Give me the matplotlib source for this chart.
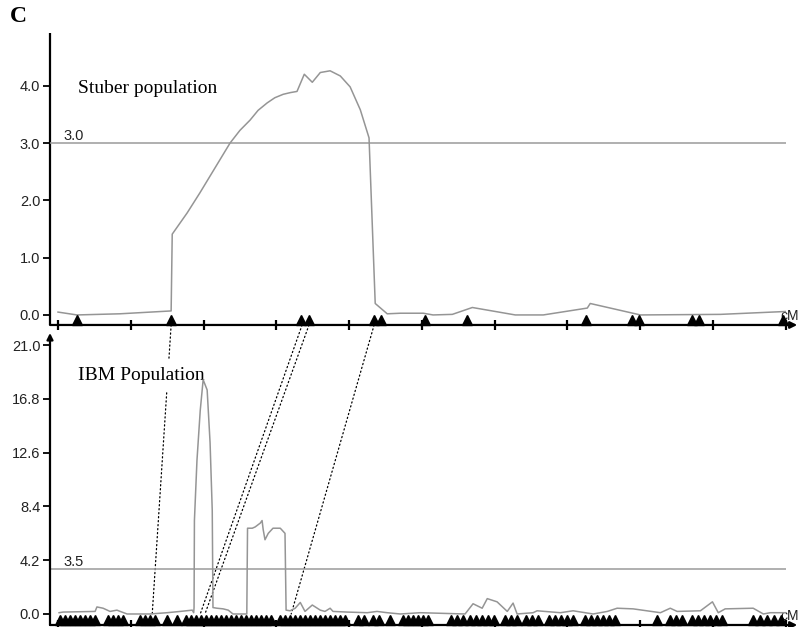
import matplotlib.pyplot as plt
import matplotlib.transforms as mtransforms
from matplotlib.patches import ConnectionPatch

# LOD profiles (position in cM, LOD score)
stuber_cm = [0.0, 5.2, 17.0, 31.1, 31.4, 35.5, 39.0, 47.3, 50.0, 52.8, 55.0, 57.5, 59.6,
             61.9, 63.9, 65.7, 67.7, 69.9, 72.1, 74.8, 77.6, 80.3, 83.1, 85.5, 87.2,
             90.5, 94.1, 100.4, 103.1, 108.4, 113.9, 125.7, 133.4, 145.5, 146.3, 160.1,
             182.1, 199.9]
stuber_lod = [0.05, 0.0, 0.02, 0.07, 1.41, 1.78, 2.13, 3.0, 3.22, 3.4, 3.57, 3.7, 3.79,
              3.85, 3.88, 3.9, 4.2, 4.06, 4.23, 4.26, 4.17, 3.98, 3.58, 3.09, 0.2,
              0.02, 0.03, 0.03, 0.0, 0.01, 0.13, 0.0, 0.0, 0.12, 0.2, 0.0,
              0.01, 0.06]

ibm_cm = [0.3, 1.4, 10.2, 10.7, 12.4, 14.3, 16.2, 17.1, 19.0, 25.3, 30.0, 33.6, 36.9,
          37.3, 37.4, 37.5, 38.2, 39.1, 39.9, 41.0, 41.8, 42.4, 42.6, 43.7, 45.4, 46.8,
          48.1, 51.9, 52.1, 53.4, 54.2, 55.6, 56.1, 56.4, 56.9, 57.8, 59.1, 61.1, 62.4,
          62.7, 63.8, 65.2, 66.6, 67.9, 69.9, 72.1, 73.4, 74.8, 75.6, 79.5, 85.0, 87.7,
          90.5, 94.1, 99.6, 111.9, 114.1, 116.6, 118.0, 120.7, 123.5, 125.1, 126.2,
          130.6, 131.7, 138.1, 141.6, 147.1, 151.0, 153.7, 158.1, 165.6, 168.3, 170.2,
          176.6, 179.9, 181.5, 183.4, 191.1, 193.9, 195.8, 199.9]
ibm_lod = [0.1, 0.15, 0.2, 0.55, 0.45, 0.2, 0.3, 0.2, 0.0, 0.0, 0.1, 0.2, 0.3,
           0.1, 0.5, 7.3, 12.0, 15.9, 18.3, 17.5, 13.4, 8.1, 0.5, 0.45, 0.4, 0.3,
           0.0, 0.0, 6.7, 6.7, 6.8, 7.1, 7.3, 6.6, 5.8, 6.3, 6.7, 6.7, 6.3,
           0.3, 0.25, 0.45, 0.9, 0.2, 0.7, 0.3, 0.2, 0.45, 0.2, 0.15, 0.1, 0.2,
           0.1, 0.0, 0.1, 0.0, 0.8, 0.45, 1.2, 0.95, 0.2, 0.85, 0.0,
           0.1, 0.25, 0.1, 0.25, 0.0, 0.2, 0.45, 0.4, 0.1, 0.45, 0.2,
           0.25, 0.95, 0.1, 0.4, 0.45, 0.0, 0.1, 0.1]

# marker positions (cM)
stuber_markers = [5.2, 31.0, 66.8, 69.0, 86.8, 88.7, 100.8, 112.4, 145.1, 157.7,
                  159.6, 174.2, 176.1, 199.2]
ibm_markers = [0.5, 1.9, 3.3, 4.7, 6.0, 7.4, 8.8, 10.2, 13.8, 15.1, 16.5, 17.9,
               22.6, 23.9, 25.3, 26.7, 30.0, 32.7, 35.2, 36.6, 38.0, 39.3, 40.7,
               42.1, 43.5, 44.8, 46.2, 47.6, 49.0, 50.3, 51.7, 53.1, 54.5, 55.8,
               57.2, 58.6, 61.1, 62.4, 63.8, 65.2, 66.6, 67.9, 69.3, 70.7, 72.1,
               73.4, 74.8, 76.2, 77.6, 78.9, 82.5, 84.2, 86.6, 88.3, 91.3, 94.9,
               96.3, 97.6, 99.0, 100.4, 101.8, 108.1, 109.7, 111.4, 113.3, 115.0,
               116.6, 118.3, 119.9, 122.9, 124.6, 126.2, 128.7, 130.4, 132.0, 135.0,
               136.7, 138.3, 140.0, 141.6, 144.9, 146.6, 148.2, 149.9, 151.5, 153.2,
               164.7, 168.3, 170.0, 171.6, 174.4, 176.0, 177.7, 179.3, 181.0, 182.6,
               191.1, 193.1, 195.0, 196.9, 198.8]

# shared markers linking the two maps
stuber_links = [31.1, 67.1, 69.0, 86.9]
ibm_links = [25.9, 39.1, 40.4, 64.1]

stuber_threshold = 3.0
ibm_threshold = 3.5
map_end = 200.0
stuber_yticks = [0.0, 1.0, 2.0, 3.0, 4.0]
ibm_yticks = [0.0, 4.2, 8.4, 12.6, 16.8, 21.0]
x_ticks = list(range(0, 201, 20))

CURVE = "#959595"
SANS = ["Liberation Sans", "DejaVu Sans"]
SERIF = ["Liberation Serif", "DejaVu Serif"]

fig = plt.figure(figsize=(8.0, 6.27), dpi=100)
ax1 = fig.add_axes([0.0625, 0.4817, 0.934, 0.4657])
ax2 = fig.add_axes([0.0625, 0.0032, 0.934, 0.4657])


def style(ax, yticks, ylim, arrow_up):
    ax.set_xlim(-2.2, 203.2)
    ax.set_ylim(*ylim)
    for s in ["top", "right", "bottom", "left"]:
        ax.spines[s].set_visible(False)
    ax.patch.set_alpha(0)
    ax.set_xticks(x_ticks)
    ax.set_xticklabels([])
    ax.set_yticks(yticks)
    ax.set_yticklabels([f"{t:.1f}" for t in yticks], family=SANS, fontsize=10.5, color="#222222")
    ax.tick_params(axis="x", direction="inout", length=7, width=1.6, color="black")
    ax.tick_params(axis="y", direction="out", length=5, width=1.3, color="black", pad=2)
    # x axis with arrow
    ax.annotate("", xy=(1.0, 0), xytext=(0, 0), xycoords="axes fraction",
                arrowprops=dict(arrowstyle="-|>", lw=1.6, color="black",
                                mutation_scale=10, shrinkA=0, shrinkB=0))
    if arrow_up:
        ax.annotate("", xy=(0, 1.0), xytext=(0, 0), xycoords="axes fraction",
                    arrowprops=dict(arrowstyle="-|>", lw=1.6, color="black",
                                    mutation_scale=9, shrinkA=0, shrinkB=0))
    else:
        ax.plot([0, 0], [0, 1], transform=ax.transAxes, color="black", lw=1.6,
                clip_on=False, solid_capstyle="butt")
    ax.text(1.002, 0.008, "cM", transform=ax.transAxes, ha="right",
            va="bottom", family=SANS, fontsize=10, color="#222222", clip_on=False)


style(ax1, stuber_yticks, (-0.175, 4.92), False)
style(ax2, ibm_yticks, (-0.86, 21.95), True)

for ax, xs, ys, thr, markers in [
    (ax1, stuber_cm, stuber_lod, stuber_threshold, stuber_markers),
    (ax2, ibm_cm, ibm_lod, ibm_threshold, ibm_markers),
]:
    ax.plot(xs, ys, color=CURVE, lw=1.1, zorder=4)
    ax.hlines(thr, ax.get_xlim()[0], map_end, color="#9a9a9a", lw=1.1, zorder=2)
    ax.text(1.5, thr, f"{thr:.1f}", ha="left", va="bottom", family=SANS,
            fontsize=10.5, color="#222222")
    tr = mtransforms.offset_copy(ax.get_xaxis_transform(), fig=fig, y=3.4, units="points")
    ax.plot(markers, [0] * len(markers), linestyle="none", marker="^", ms=7,
            color="black", transform=tr, clip_on=False, zorder=5)

ax1.text(5.5, 3.95, "Stuber population", family=SERIF, fontsize=14, va="center", ha="left")
ax2.text(5.5, 18.6, "IBM Population", family=SERIF, fontsize=14, va="center", ha="left",
         zorder=3, bbox=dict(boxstyle="square,pad=0.4", fc="white", ec="none"))

for xa, xb in zip(stuber_links, ibm_links):
    con = ConnectionPatch(xyA=(xa, 0), coordsA=ax1.get_xaxis_transform(),
                          xyB=(xb, 0), coordsB=ax2.transData,
                          color="black", lw=0.9, linestyle=(0, (1.0, 2.2)), zorder=1)
    fig.add_artist(con)
# keep label box above the connector lines
ax2.set_zorder(2)
ax1.set_zorder(1)

fig.text(0.012, 0.973, "C", family=SERIF, fontsize=17, fontweight="bold", va="center", ha="left")

fig.savefig("out.png", dpi=100, facecolor="white")
